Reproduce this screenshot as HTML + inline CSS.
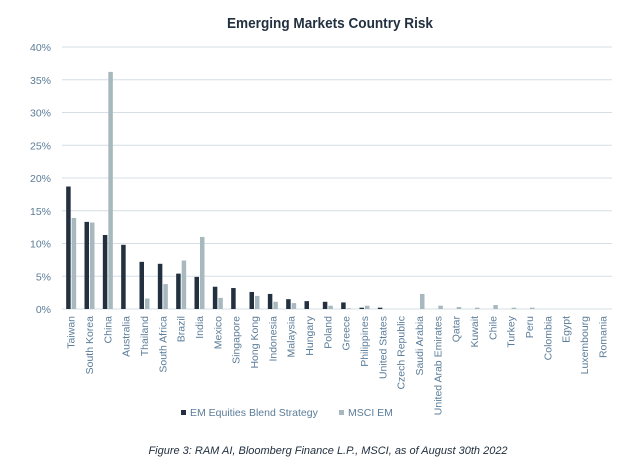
<!DOCTYPE html>
<html><head><meta charset="utf-8"><style>
body{margin:0;background:#fff;width:644px;height:471px;overflow:hidden;font-family:"Liberation Sans",sans-serif}
</style></head><body>
<svg id="chart" width="644" height="471" xmlns="http://www.w3.org/2000/svg">
<text x="330" y="28" text-anchor="middle" font-size="14.5" font-weight="bold" fill="#22303f" textLength="206" lengthAdjust="spacingAndGlyphs">Emerging Markets Country Risk</text>
<g id="grid"></g><g id="bars"></g><g id="xlabels"></g>
<g>
<rect x="181" y="410" width="5" height="5" fill="#22303f"/>
<text x="190" y="416" font-size="10.5" fill="#5b7c99">EM Equities Blend Strategy</text>
<rect x="339" y="410" width="5" height="5" fill="#a8b8bf"/>
<text x="348" y="416" font-size="10.5" fill="#5b7c99">MSCI EM</text>
</g>
<text x="328" y="454" text-anchor="middle" font-size="11" font-style="italic" fill="#22303f">Figure 3: RAM AI, Bloomberg Finance L.P., MSCI, as of August 30th 2022</text>
</svg>
<script>
const categories=["Taiwan","South Korea","China","Australia","Thailand","South Africa","Brazil","India","Mexico","Singapore","Hong Kong","Indonesia","Malaysia","Hungary","Poland","Greece","Philippines","United States","Czech Republic","Saudi Arabia","United Arab Emirates","Qatar","Kuwait","Chile","Turkey","Peru","Colombia","Egypt","Luxembourg","Romania"];
const emValues=[18.7,13.3,11.3,9.8,7.2,6.9,5.4,4.9,3.4,3.2,2.6,2.3,1.5,1.2,1.1,1.0,0.2,0.2,0,0,0,0,0,0,0,0,0,0,0,0];
const msciValues=[13.9,13.2,36.2,0,1.6,3.8,7.4,11.0,1.7,0,2.0,1.1,0.9,0,0.5,0.1,0.5,0,0,2.3,0.5,0.3,0.2,0.6,0.2,0.2,0,0,0,0];
const yTicks=[0,5,10,15,20,25,30,35,40];
const NS="http://www.w3.org/2000/svg";
const x0=62,x1=612,y0=309,yTop=47;
const band=(x1-x0)/categories.length;
const yS=v=>y0-(v/40)*(y0-yTop);
const xC=i=>x0+band*(i+0.5);
function mk(t,a,p){const e=document.createElementNS(NS,t);for(const k in a)e.setAttribute(k,a[k]);p.appendChild(e);return e;}
const grid=document.getElementById('grid');
yTicks.forEach(t=>{
 const l=mk('line',{x1:x0,x2:x1,y1:yS(t),y2:yS(t),stroke:'#d6dfe6','stroke-width':1},grid);
 
 
 const tx=mk('text',{x:51,y:yS(t)+4,'text-anchor':'end','font-size':10.5,fill:'#5b7c99'},grid);
 tx.textContent=t+'%';
 
 
});
const bars=document.getElementById('bars'),xl=document.getElementById('xlabels');
categories.forEach((c,i)=>{
 const cx=xC(i);
 const a=mk('rect',{x:cx-5,y:yS(emValues[i]),width:4.5,height:y0-yS(emValues[i]),fill:'#22303f'},bars);
 
 
 const b=mk('rect',{x:cx+0.5,y:yS(msciValues[i]),width:4.5,height:y0-yS(msciValues[i]),fill:'#a8b8bf'},bars);
 
 
 const t=mk('text',{transform:`translate(${cx+3.5},316) rotate(-90)`,'text-anchor':'end','font-size':10.5,fill:'#5b7c99'},xl);
 t.textContent=c;
 
 
});
</script>
</body></html>
